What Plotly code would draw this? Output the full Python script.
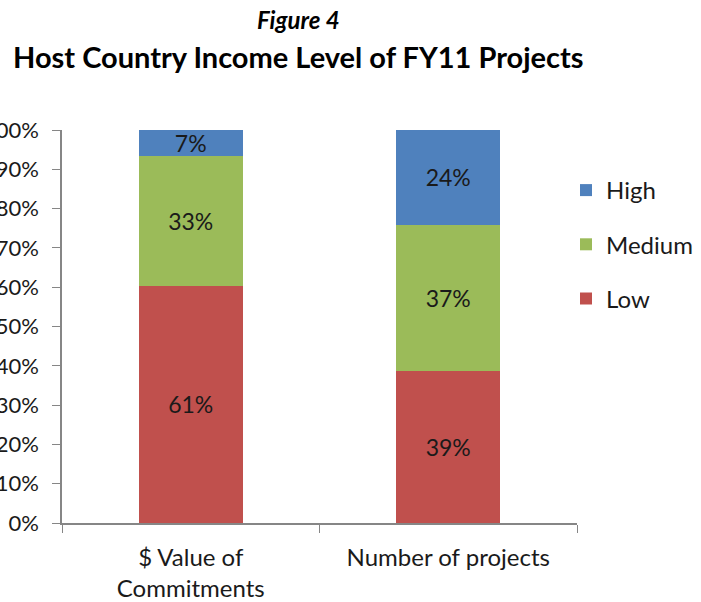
import plotly.graph_objects as go

categories = ["$ Value of<br>Commitments", "Number of projects"]
low = [60.4, 38.8]
medium = [32.9, 37.1]
high = [6.7, 24.1]
low_text = ["61%", "39%"]
medium_text = ["33%", "37%"]
high_text = ["7%", "24%"]
y_ticks = [0, 10, 20, 30, 40, 50, 60, 70, 80, 90, 100]
y_tick_labels = [f"{v}%" for v in y_ticks]

FONT = "Lato, 'Open Sans', sans-serif"
TXT = "#1a1a1a"

fig = go.Figure()
series = [("Low", low, low_text, "#C0504D", 3),
          ("Medium", medium, medium_text, "#9BBB59", 2),
          ("High", high, high_text, "#4F81BD", 1)]
for name, vals, txt, col, rank in series:
    fig.add_trace(go.Bar(
        x=categories, y=vals, name=name, text=txt,
        textposition="inside", insidetextanchor="middle",
        constraintext="none",
        textfont=dict(family=FONT, size=23, color=TXT),
        marker=dict(color=col, line=dict(width=0)),
        legendgroup=name, legendrank=rank,
    ))

# plot area in page pixels
L, R, T, B = 62, 577, 130, 523
W, H = 701, 602
PW, PH = R - L, B - T

fig.update_layout(
    barmode="stack",
    bargap=0.596,
    width=W, height=H,
    margin=dict(l=L, r=W - R, t=T, b=H - B, autoexpand=False),
    paper_bgcolor="white", plot_bgcolor="white",
    font=dict(family=FONT, size=22, color=TXT),
    showlegend=True,
    legend=dict(
        x=(566 - L) / PW, y=1 - (168 - T) / PH, xanchor="left", yanchor="top",
        traceorder="grouped", tracegroupgap=20,
        font=dict(family=FONT, size=24, color=TXT),
        itemwidth=30, bgcolor="rgba(0,0,0,0)",
    ),
    annotations=[
        dict(text="<b><i>Figure 4</i></b>", xref="paper", yref="paper",
             x=(298 - L) / PW, y=1 + (T - 19) / PH, xanchor="center", yanchor="middle",
             showarrow=False, font=dict(family=FONT, size=24, color="black")),
        dict(text="<b>Host Country Income Level of FY11 Projects</b>", xref="paper", yref="paper",
             x=(298 - L) / PW, y=1 + (T - 56) / PH, xanchor="center", yanchor="middle",
             showarrow=False, font=dict(family=FONT, size=29, color="black")),
    ],
)
fig.update_xaxes(
    showline=True, linecolor="#868686", linewidth=1.5,
    ticks="outside", tickson="boundaries", ticklen=8, tickcolor="#868686",
    ticklabelstandoff=12,
    tickfont=dict(family=FONT, size=24, color=TXT),
    showgrid=False, range=[-0.5, 1.5], fixedrange=True,
)
fig.update_yaxes(
    range=[0, 100], tickvals=y_ticks, ticktext=y_tick_labels,
    showline=True, linecolor="#868686", linewidth=1.5,
    ticks="outside", ticklen=8, tickcolor="#868686",
    ticklabelstandoff=9,
    tickfont=dict(family=FONT, size=22, color=TXT),
    showgrid=False, zeroline=False, fixedrange=True,
)

fig.write_html("out.html", config={"displayModeBar": False},
               post_script="document.body.style.margin='0';")
